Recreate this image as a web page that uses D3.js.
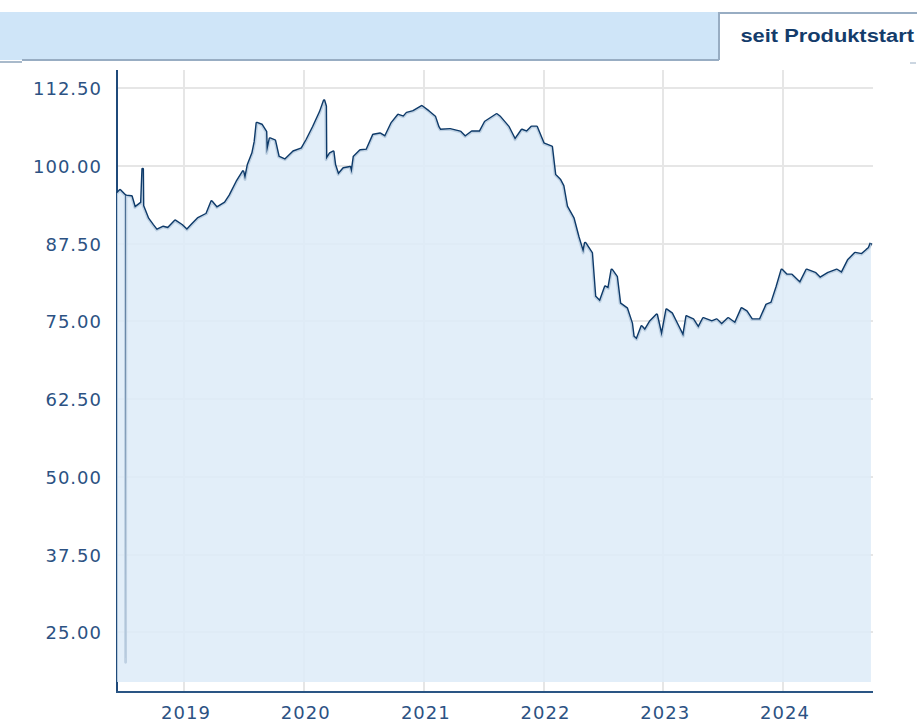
<!DOCTYPE html>
<html>
<head>
<meta charset="utf-8">
<script src="https://cdn.jsdelivr.net/npm/d3@7"></script>
<style>
  body { margin: 0; background: #fff; }
  svg { display: block; }
</style>
</head>
<body>
<svg width="917" height="722"></svg>
<script>
// price history
var dates = [
  "2018-06-11","2018-06-20","2018-07-05","2018-07-06","2018-07-07","2018-07-08","2018-07-25","2018-08-04","2018-08-24","2018-08-28",
  "2018-08-29","2018-09-13","2018-09-28","2018-10-10","2018-10-29","2018-11-13","2018-12-05","2018-12-25","2019-01-10","2019-01-24",
  "2019-02-13","2019-03-11","2019-03-26","2019-04-11","2019-05-06","2019-05-21","2019-06-11","2019-06-30","2019-07-06","2019-07-15",
  "2019-07-29","2019-08-05","2019-08-11","2019-08-26","2019-09-08","2019-09-10","2019-09-20","2019-10-05","2019-10-16","2019-11-05",
  "2019-11-30","2019-12-26","2020-01-10","2020-01-30","2020-02-20","2020-03-03","2020-03-08","2020-03-09","2020-03-21","2020-03-31",
  "2020-04-05","2020-04-15","2020-05-01","2020-05-21","2020-05-26","2020-06-02","2020-06-21","2020-07-11","2020-07-31","2020-08-21",
  "2020-09-05","2020-09-25","2020-10-15","2020-10-31","2020-11-10","2020-11-30","2020-12-26","2021-01-15","2021-02-04","2021-02-14",
  "2021-02-20","2021-03-22","2021-04-22","2021-05-07","2021-05-27","2021-06-21","2021-07-07","2021-08-11","2021-08-21","2021-09-16",
  "2021-10-06","2021-10-27","2021-11-11","2021-11-26","2021-12-11","2022-01-01","2022-01-26","2022-02-05","2022-02-20","2022-03-02",
  "2022-03-13","2022-04-02","2022-04-17","2022-05-02","2022-05-08","2022-05-28","2022-06-07","2022-06-22","2022-07-08","2022-07-18",
  "2022-07-28","2022-08-12","2022-08-22","2022-09-12","2022-09-27","2022-10-02","2022-10-12","2022-10-27","2022-11-06","2022-11-22",
  "2022-12-12","2022-12-27","2023-01-11","2023-01-27","2023-02-11","2023-03-03","2023-03-13","2023-04-02","2023-04-18","2023-05-03",
  "2023-05-29","2023-06-13","2023-06-28","2023-07-18","2023-08-08","2023-08-28","2023-09-12","2023-09-28","2023-10-23","2023-11-12",
  "2023-11-27","2023-12-13","2023-12-28","2024-01-12","2024-01-27","2024-02-22","2024-03-13","2024-04-08","2024-04-23","2024-05-18",
  "2024-06-13","2024-06-28","2024-07-18","2024-08-08","2024-08-28","2024-09-12","2024-09-19","2024-09-25"
];
var prices = [
  95.6, 96.1, 95.3, 95.3, 20.2, 95.2, 95.1, 93.3, 94.1, 99.5,
  93.6, 91.6, 90.5, 89.7, 90.2, 90.0, 91.2, 90.5, 89.7, 90.5,
  91.6, 92.3, 94.3, 93.3, 94.1, 95.3, 97.5, 99.1, 97.8, 100.2,
  102.1, 103.9, 106.9, 106.6, 105.5, 102.0, 104.4, 104.1, 101.5, 101.0,
  102.3, 102.8, 104.2, 106.3, 108.7, 110.5, 109.6, 101.0, 102.0, 102.3,
  100.2, 98.6, 99.6, 99.8, 98.8, 101.5, 102.5, 102.6, 105.0, 105.2,
  104.7, 106.9, 108.2, 107.9, 108.5, 108.8, 109.6, 108.8, 107.9, 106.3,
  105.8, 105.9, 105.5, 104.7, 105.5, 105.5, 107.1, 108.3, 107.9, 106.3,
  104.2, 105.8, 105.5, 106.3, 106.3, 103.6, 103.1, 98.6, 97.8, 96.8,
  93.5, 91.6, 88.6, 86.0, 87.6, 86.0, 79.0, 78.2, 80.6, 80.3,
  83.3, 82.2, 77.9, 77.1, 74.7, 72.6, 72.1, 74.2, 73.6, 75.0,
  76.1, 72.6, 76.9, 76.3, 74.7, 72.6, 75.8, 75.3, 74.0, 75.5,
  75.0, 75.3, 74.5, 75.5, 74.7, 77.1, 76.6, 75.3, 75.3, 77.7,
  78.0, 80.6, 83.3, 82.5, 82.5, 81.2, 83.3, 82.8, 82.0, 82.8,
  83.3, 82.8, 84.9, 86.0, 85.8, 86.5, 86.8, 87.6
];
var yTicks = [25, 37.5, 50, 62.5, 75, 87.5, 100, 112.5];
var xTicks = ["2019-01-01", "2020-01-01", "2021-01-01", "2022-01-01", "2023-01-01", "2024-01-01"];
var tabLabel = "seit Produktstart";

var parse = d3.timeParse("%Y-%m-%d");
var data = dates.map(function(d, i) { return {date: parse(d), value: prices[i]}; });

var svg = d3.select("svg");

var plotLeft = 117, plotRight = 873, plotTop = 70, plotBottom = 692, fillBottom = 682;

var x = d3.scaleTime()
    .domain([parse("2019-01-01"), parse("2024-01-01")])
    .range([184, 783]);

var y = d3.scaleLinear()
    .domain([17.04, 115.43])
    .range([fillBottom, plotTop]);

// header band with tab
var head = svg.append("g");
head.append("rect").attr("x", 0).attr("y", 12).attr("width", 719).attr("height", 48).attr("fill", "#cfe5f8");
head.append("line").attr("x1", 22).attr("x2", 719).attr("y1", 60).attr("y2", 60)
  .attr("stroke", "#98adc3").attr("stroke-width", 2);
head.append("line").attr("x1", 0).attr("x2", 22).attr("y1", 62).attr("y2", 62)
  .attr("stroke", "#a9bacb").attr("stroke-width", 2);
head.append("line").attr("x1", 719).attr("x2", 917).attr("y1", 13).attr("y2", 13)
  .attr("stroke", "#98adc3").attr("stroke-width", 2);
head.append("line").attr("x1", 719).attr("x2", 719).attr("y1", 12).attr("y2", 60)
  .attr("stroke", "#98adc3").attr("stroke-width", 2);
head.append("line").attr("x1", 910).attr("x2", 916).attr("y1", 63).attr("y2", 63)
  .attr("stroke", "#98adc3").attr("stroke-width", 1);
head.append("text")
  .attr("transform", "translate(914,42) scale(1.15,1)")
  .attr("text-anchor", "end")
  .style("font-family", "'Liberation Sans', Arial, sans-serif")
  .style("font-weight", "bold")
  .style("font-size", "19px")
  .attr("fill", "#143c6b")
  .text(tabLabel);

// grid
var grid = svg.append("g").attr("stroke", "#e6e6e6").attr("stroke-width", 2);
grid.selectAll(".h").data(yTicks).enter().append("line")
  .attr("x1", plotLeft).attr("x2", plotRight)
  .attr("y1", function(d) { return Math.round(y(d)); })
  .attr("y2", function(d) { return Math.round(y(d)); });
grid.selectAll(".v").data(xTicks).enter().append("line")
  .attr("x1", function(d) { return Math.round(x(parse(d))); })
  .attr("x2", function(d) { return Math.round(x(parse(d))); })
  .attr("y1", plotTop).attr("y2", plotBottom);

// y axis line sits under the translucent area
svg.append("line")
  .attr("x1", plotLeft).attr("x2", plotLeft).attr("y1", plotTop).attr("y2", plotBottom + 1)
  .attr("stroke", "#1f4a7a").attr("stroke-width", 2);

var line = d3.line()
  .x(function(d) { return x(d.date); })
  .y(function(d) { return y(d.value); });

var area = d3.area()
  .x(function(d) { return x(d.date); })
  .y0(fillBottom)
  .y1(function(d) { return y(d.value); });

svg.append("path")
  .datum(data)
  .attr("d", line)
  .attr("fill", "none")
  .attr("stroke", "#0e3a69")
  .attr("stroke-width", 2.8)
  .attr("stroke-linejoin", "round");

svg.append("path")
  .datum(data)
  .attr("d", area)
  .attr("fill", "rgb(221,235,248)")
  .attr("fill-opacity", 0.85);

// x axis
svg.append("line")
  .attr("x1", plotLeft - 1).attr("x2", plotRight).attr("y1", plotBottom).attr("y2", plotBottom)
  .attr("stroke", "#2a5584").attr("stroke-width", 2);

var labelStyle = function(sel) {
  sel.style("font-family", "'DejaVu Sans', Verdana, sans-serif")
    .style("font-size", "18px")
    .style("letter-spacing", "1px")
    .attr("fill", "#2c5283");
};

svg.append("g").selectAll("text").data(yTicks).enter().append("text")
  .attr("x", 102)
  .attr("y", function(d) { return y(d) + 7; })
  .attr("text-anchor", "end")
  .call(labelStyle)
  .text(function(d) { return d3.format(".2f")(d); });

svg.append("g").selectAll("text").data(xTicks).enter().append("text")
  .attr("x", function(d) { return x(parse(d)) + 2; })
  .attr("y", 719)
  .attr("text-anchor", "middle")
  .call(labelStyle)
  .text(function(d) { return d.slice(0, 4); });
</script>
</body>
</html>
